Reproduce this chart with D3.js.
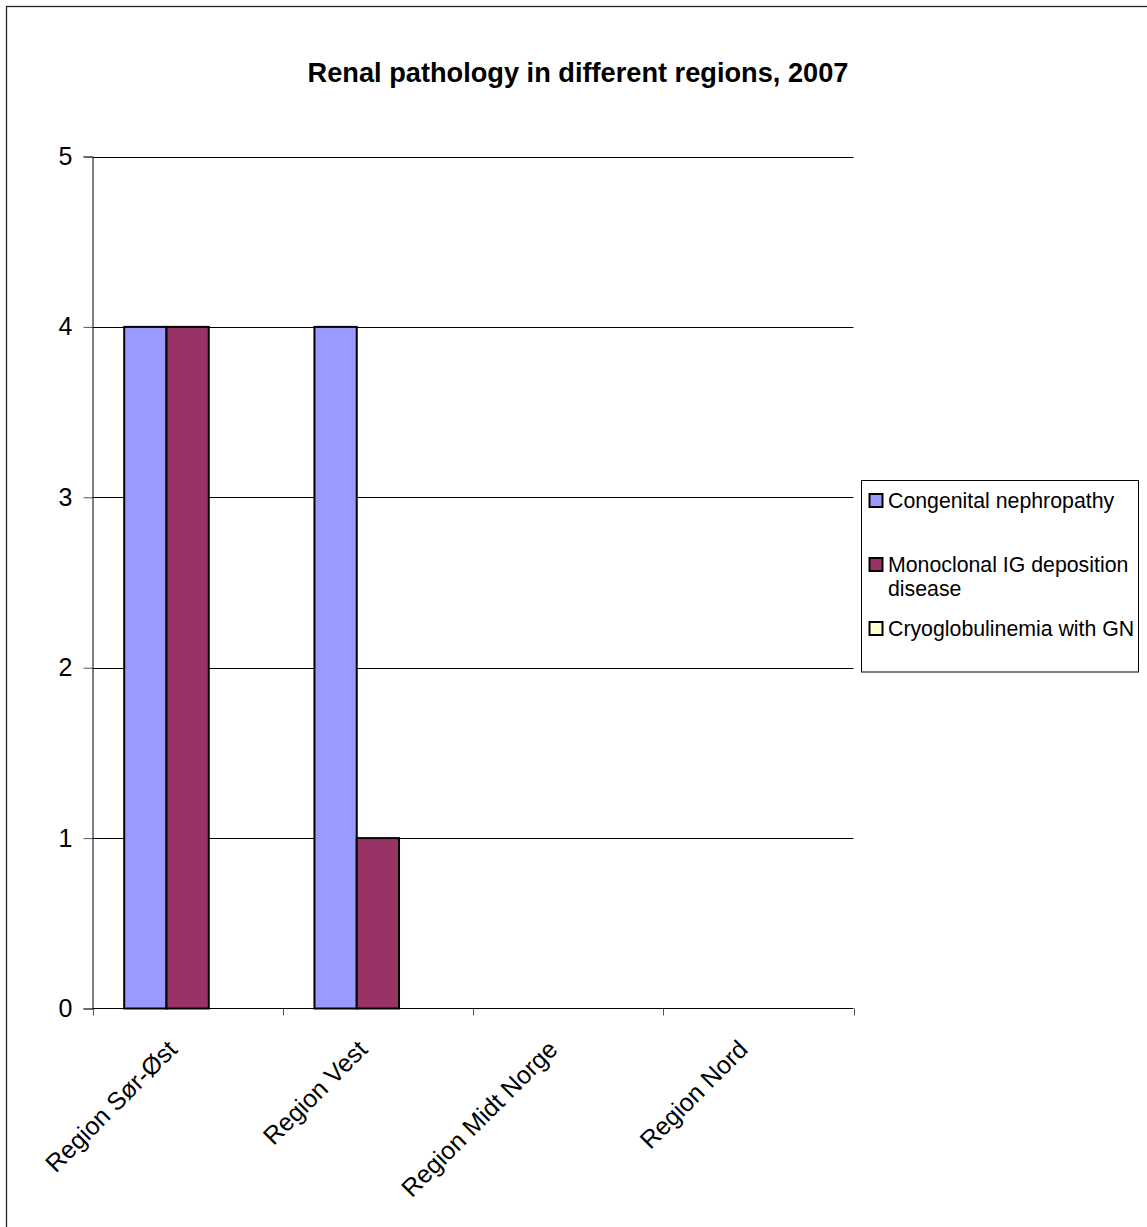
<!DOCTYPE html>
<html>
<head>
<meta charset="utf-8">
<script src="https://cdn.jsdelivr.net/npm/d3@7"></script>
<style>
  html, body { margin: 0; padding: 0; background: #fff; }
  svg { display: block; }
  text { font-family: "Liberation Sans", Arial, sans-serif; fill: #000; }
</style>
</head>
<body>
<svg id="chart" width="1147" height="1227"></svg>
<script>
const title = "Renal pathology in different regions, 2007";
const categories = ["Region Sør-Øst", "Region Vest", "Region Midt Norge", "Region Nord"];
const seriesNames = ["Congenital nephropathy", "Monoclonal IG deposition disease", "Cryoglobulinemia with GN"];
const seriesColors = ["#9999FF", "#993366", "#FFFFCC"];
const congenital = [4, 4, 0, 0];
const monoclonal = [4, 1, 0, 0];
const cryoglobulinemia = [0, 0, 0, 0];
const seriesValues = [congenital, monoclonal, cryoglobulinemia];
const yTicks = [0, 1, 2, 3, 4, 5];

const svg = d3.select("#chart");

// outer frame
svg.append("rect")
  .attr("x", 6.5).attr("y", 6.5)
  .attr("width", 1200).attr("height", 1300)
  .attr("fill", "#fff").attr("stroke", "#222").attr("stroke-width", 1.3);

const plot = { left: 92.5, right: 853.5, top: 156.5, bottom: 1008.5 };

const x = d3.scaleBand().domain(categories).range([plot.left, plot.right]).paddingInner(0).paddingOuter(0);
const xInner = d3.scaleBand().domain(seriesNames).range([0, x.bandwidth()]).paddingInner(0).paddingOuter(0.75);
const y = d3.scaleLinear().domain([0, 5]).range([plot.bottom, plot.top]);

// title
svg.append("text")
  .attr("x", 578).attr("y", 82)
  .attr("text-anchor", "middle")
  .style("font-size", "27.2px").style("font-weight", "bold")
  .text(title);

// gridlines
svg.append("g").selectAll("line")
  .data(yTicks.filter(d => d > 0))
  .join("line")
  .attr("x1", plot.left).attr("x2", plot.right)
  .attr("y1", d => Math.round(y(d)) + 0.5).attr("y2", d => Math.round(y(d)) + 0.5)
  .attr("stroke", "#000").attr("stroke-width", 1);

// bars
const rows = [];
categories.forEach((c, ci) => {
  seriesNames.forEach((s, si) => {
    rows.push({ cat: c, series: s, value: seriesValues[si][ci], color: seriesColors[si] });
  });
});
svg.append("g").selectAll("rect")
  .data(rows.filter(d => d.value > 0))
  .join("rect")
  .attr("x", d => x(d.cat) + xInner(d.series))
  .attr("y", d => y(d.value))
  .attr("width", xInner.bandwidth())
  .attr("height", d => y(0) - y(d.value))
  .attr("fill", d => d.color)
  .attr("stroke", "#000").attr("stroke-width", 2);

// y axis
const yAxis = d3.axisLeft(y).tickValues(yTicks).tickSize(9).tickPadding(11).tickFormat(d3.format("d"));
const gy = svg.append("g").attr("transform", `translate(${plot.left},0)`).call(yAxis);
gy.select(".domain").attr("stroke", "#000");
gy.selectAll(".tick line").attr("stroke", "#555");
gy.selectAll(".tick text").style("font-size", "25px").style("font-family", "'Liberation Sans', Arial, sans-serif").attr("fill", "#000");

// x axis line
svg.append("line")
  .attr("x1", plot.left).attr("x2", plot.right)
  .attr("y1", plot.bottom).attr("y2", plot.bottom)
  .attr("stroke", "#000");

// x ticks at category boundaries
const boundaries = categories.map(c => x(c)).concat([x(categories[categories.length - 1]) + x.bandwidth()]);
svg.append("g").selectAll("line")
  .data(boundaries)
  .join("line")
  .attr("x1", d => Math.round(d) + 0.5).attr("x2", d => Math.round(d) + 0.5)
  .attr("y1", plot.bottom).attr("y2", plot.bottom + 7)
  .attr("stroke", "#555");

// category labels
svg.append("g").selectAll("text")
  .data(categories)
  .join("text")
  .attr("text-anchor", "end")
  .attr("transform", d => `translate(${x(d) + x.bandwidth() / 2 - 9},1051) rotate(-45)`)
  .style("font-size", "25px")
  .text(d => d);

// legend
const legend = svg.append("g");
legend.append("rect")
  .attr("x", 861.5).attr("y", 480.5).attr("width", 277).attr("height", 191.5)
  .attr("fill", "#fff").attr("stroke", "#000").attr("stroke-width", 1);

const legendFont = 21.3, lineH = 23.5, maxW = 247;
seriesNames.forEach((name, i) => {
  const base = 508 + i * 64;
  legend.append("rect")
    .attr("x", 869.5).attr("y", base - 14).attr("width", 13).attr("height", 13)
    .attr("fill", seriesColors[i]).attr("stroke", "#000").attr("stroke-width", 2);
  const t = legend.append("text")
    .attr("x", 888).attr("y", base)
    .style("font-size", legendFont + "px");
  // simple word wrap
  const words = name.split(" ");
  let line = [];
  let tspan = t.append("tspan").attr("x", 888).attr("y", base);
  let lineNo = 0;
  words.forEach(w => {
    line.push(w);
    tspan.text(line.join(" "));
    if (tspan.node().getComputedTextLength() > maxW && line.length > 1) {
      line.pop();
      tspan.text(line.join(" "));
      line = [w];
      lineNo++;
      tspan = t.append("tspan").attr("x", 888).attr("y", base + lineNo * lineH).text(w);
    }
  });
});
</script>
</body>
</html>
